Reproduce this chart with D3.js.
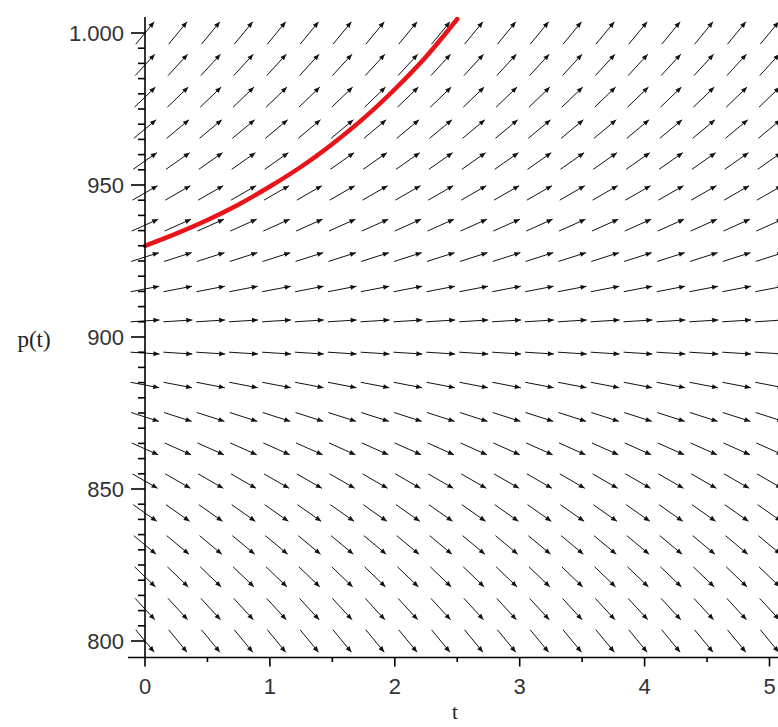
<!DOCTYPE html>
<html>
<head>
<meta charset="utf-8">
<script src="https://cdn.jsdelivr.net/npm/d3@7"></script>
<style>
  html, body { margin: 0; padding: 0; background: #fff; }
  svg { display: block; }
</style>
</head>
<body>
<svg id="chart" width="778" height="727"></svg>
<script>
// ---- data ----
const xTicks = [0, 1, 2, 3, 4, 5];
const xMinorTicks = [0.5, 1.5, 2.5, 3.5, 4.5];
const yTicks = [800, 850, 900, 950, 1000];
const yTickLabels = ["800", "850", "900", "950", "1.000"];
// direction-field grid (t columns, p rows)
const tColumns = [0, 0.263, 0.526, 0.789, 1.053, 1.316, 1.579, 1.842, 2.105, 2.368,
                  2.632, 2.895, 3.158, 3.421, 3.684, 3.947, 4.211, 4.474, 4.737, 5.0];
const pRows = [800, 810.5, 821.1, 831.6, 842.1, 852.6, 863.2, 873.7, 884.2, 894.7,
               905.3, 915.8, 926.3, 936.8, 947.4, 957.9, 968.4, 978.9, 989.5, 1000];
// ODE dp/dt = rate * (p - equilibrium)
const rate = 0.5;
const equilibrium = 900;
// solution curve, p(0) = 930
const curveT = [0, 0.25, 0.5, 0.75, 1, 1.25, 1.5, 1.75, 2, 2.25, 2.5];
const curveP = [930, 934, 938.5, 943.6, 949.5, 956, 963.5, 971.9, 981.5, 992.2, 1004.6];

// ---- drawing ----
const svg = d3.select("#chart");
const x = d3.scaleLinear().domain([0, 5]).range([145, 769.5]);
const y = d3.scaleLinear().domain([800, 1000]).range([641, 33]);
const axisY = 657.5;

svg.append("defs").append("clipPath").attr("id", "clip")
  .append("rect").attr("x", 0).attr("y", 17).attr("width", 778).attr("height", 700);

// arrows
const L = 29, headLen = 6, headW = 2.5;
const field = svg.append("g").attr("clip-path", "url(#clip)");
const cells = [];
pRows.forEach(p => tColumns.forEach(t => cells.push({ t, p })));
cells.forEach(c => {
  const slope = rate * (c.p - equilibrium);
  const dx = x(c.t + 1) - x(c.t);
  const dy = y(c.p + slope) - y(c.p);
  const len = Math.hypot(dx, dy);
  const ux = dx / len, uy = dy / len;
  const cx = x(c.t), cy = y(c.p);
  const x0 = cx - ux * L / 2, y0 = cy - uy * L / 2;
  const x1 = cx + ux * L / 2, y1 = cy + uy * L / 2;
  field.append("line")
    .attr("x1", x0).attr("y1", y0).attr("x2", x1).attr("y2", y1)
    .attr("stroke", "#111").attr("stroke-width", 1);
  const bx = x1 - ux * headLen, by = y1 - uy * headLen;
  const px = -uy, py = ux;
  field.append("path")
    .attr("d", `M${x1},${y1}L${bx + px * headW},${by + py * headW}L${bx - px * headW},${by - py * headW}Z`)
    .attr("fill", "#111");
});

// solution curve
const curve = curveT.map((t, i) => [t, curveP[i]]);
svg.append("path")
  .attr("clip-path", "url(#clip)")
  .attr("d", d3.line().x(d => x(d[0])).y(d => y(d[1])).curve(d3.curveCatmullRom)(curve))
  .attr("fill", "none").attr("stroke", "#e8141a").attr("stroke-width", 4.5)
  .attr("stroke-linecap", "round");

// axes lines
const axes = svg.append("g").attr("stroke", "#000").attr("stroke-width", 1.6);
axes.append("line").attr("x1", 128).attr("x2", 778).attr("y1", axisY).attr("y2", axisY);
axes.append("line").attr("x1", x(0)).attr("x2", x(0)).attr("y1", 17).attr("y2", axisY);

xTicks.forEach(t => {
  axes.append("line").attr("x1", x(t)).attr("x2", x(t)).attr("y1", axisY).attr("y2", axisY + 9);
});
xMinorTicks.forEach(t => {
  axes.append("line").attr("x1", x(t)).attr("x2", x(t)).attr("y1", axisY).attr("y2", axisY + 4.5);
});
yTicks.forEach(p => {
  axes.append("line").attr("x1", x(0) - 14).attr("x2", x(0)).attr("y1", y(p)).attr("y2", y(p));
});
d3.range(805, 1001, 5).filter(p => p % 50 !== 0).forEach(p => {
  axes.append("line").attr("x1", x(0) - 7).attr("x2", x(0)).attr("y1", y(p)).attr("y2", y(p));
});

// tick labels
const lab = svg.append("g").attr("font-family", "'Liberation Sans', Arial, sans-serif")
  .attr("font-size", 22).attr("fill", "#333");
xTicks.forEach(t => {
  lab.append("text").attr("x", x(t)).attr("y", 694).attr("text-anchor", "middle").text(String(t));
});
yTicks.forEach((p, i) => {
  lab.append("text").attr("x", 124).attr("y", y(p) + 8).attr("text-anchor", "end").text(yTickLabels[i]);
});

// axis titles
svg.append("text").attr("x", 34).attr("y", 347).attr("text-anchor", "middle")
  .attr("font-family", "'Liberation Serif', 'Times New Roman', serif").attr("font-size", 23)
  .attr("fill", "#222").text("p(t)");
svg.append("text").attr("x", 455).attr("y", 719).attr("text-anchor", "middle")
  .attr("font-family", "'Liberation Serif', 'Times New Roman', serif").attr("font-size", 21)
  .attr("fill", "#222").text("t");
</script>
</body>
</html>
